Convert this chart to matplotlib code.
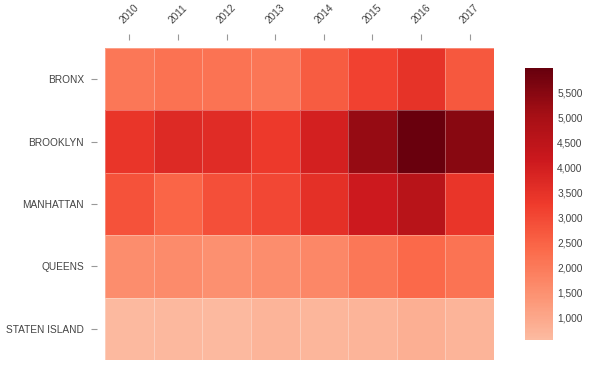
import numpy as np
import matplotlib.pyplot as plt
from matplotlib.colors import LinearSegmentedColormap

plt.rcParams['font.family'] = ['Liberation Sans', 'DejaVu Sans']

# Data
years = ['2010', '2011', '2012', '2013', '2014', '2015', '2016', '2017']
boroughs = ['BRONX', 'BROOKLYN', 'MANHATTAN', 'QUEENS', 'STATEN ISLAND']
bronx = [2070, 2200, 2150, 2090, 2650, 3160, 3490, 2720]
brooklyn = [3420, 3710, 3640, 3310, 3960, 5310, 5950, 5490]
manhattan = [2830, 2470, 2870, 3020, 3530, 4140, 4620, 3420]
queens = [1600, 1620, 1520, 1600, 1700, 2070, 2360, 2140]
staten_island = [600, 610, 600, 690, 670, 700, 830, 690]

values = np.array([bronx, brooklyn, manhattan, queens, staten_island])
vmin, vmax = 540, 6000

# Reds colormap without its near-white end
cmap = LinearSegmentedColormap.from_list(
    'reds_trunc', plt.cm.Reds(np.linspace(0.25, 1.0, 256)))

fig = plt.figure(figsize=(6.04, 3.68), dpi=100)
ax = fig.add_axes([105 / 604, 1 - 360 / 368, 389 / 604, 312 / 368])
cax = fig.add_axes([525 / 604, 1 - 340 / 368, 28 / 604, 272 / 368])

mesh = ax.pcolormesh(values, cmap=cmap, vmin=vmin, vmax=vmax,
                     edgecolors=(1, 1, 1, 0.3), linewidth=0.6)
ax.invert_yaxis()

ax.xaxis.tick_top()
ax.set_xticks(np.arange(len(years)) + 0.5)
ax.set_xticklabels(years)
ax.set_yticks(np.arange(len(boroughs)) + 0.5)
ax.set_yticklabels(boroughs)

for side in ['top', 'left']:
    ax.spines[side].set_position(('outward', 6))
for s in ax.spines.values():
    s.set_color('none')

ax.tick_params(axis='x', top=True, bottom=False, length=4.5, width=0.8,
               color='#999999', pad=6, labelsize=7.3, labelcolor='#444444',
               labelrotation=45)
ax.tick_params(axis='y', left=True, length=4, width=0.8,
               color='#999999', pad=5, labelsize=7.3, labelcolor='#444444')

cb = fig.colorbar(mesh, cax=cax)
cb.outline.set_visible(False)
cb.set_ticks(np.arange(1000, 6000, 500))
cb.ax.set_yticklabels([f'{t:,}' for t in range(1000, 6000, 500)])
cb.ax.tick_params(length=0, pad=3, labelsize=7.3, labelcolor='#444444')

fig.savefig('out.png', dpi=100)
